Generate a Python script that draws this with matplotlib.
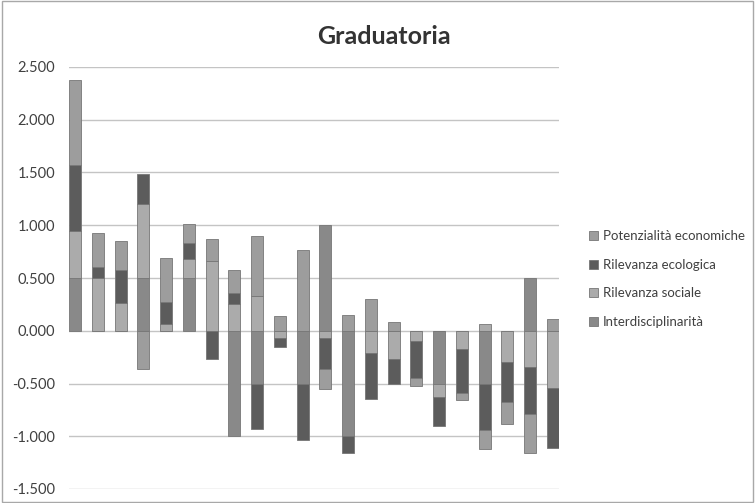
import matplotlib; matplotlib.use("Agg")
import matplotlib.pyplot as plt
import numpy as np
from matplotlib.patches import Rectangle

plt.rcParams["font.family"] = ["Lato", "DejaVu Sans"]

# ---- dati ----
series = ["Interdisciplinarità", "Rilevanza sociale", "Rilevanza ecologica", "Potenzialità economiche"]
interdisc = [0.5, 0, 0, 0.5, 0, 0.5, 0, -1.0, -0.5, 0, -0.5, 1.0, -1.0, 0, 0, 0, -0.5, 0, -0.5, 0, 0.5, 0]
sociale = [0.45, 0.5, 0.26, 0.7, 0.06, 0.18, 0.66, 0.25, 0.33, -0.07, 0, -0.07, 0, -0.21, -0.27, -0.10,
           -0.13, -0.17, 0.06, -0.30, -0.34, -0.54]
ecologica = [0.62, 0.1, 0.32, 0.29, 0.21, 0.15, -0.27, 0.11, -0.43, -0.08, -0.54, -0.29, -0.16, -0.44,
             -0.23, -0.35, -0.27, -0.42, -0.44, -0.38, -0.45, -0.57]
economiche = [0.81, 0.33, 0.27, -0.36, 0.42, 0.18, 0.21, 0.22, 0.57, 0.14, 0.77, -0.19, 0.15, 0.30,
              0.08, -0.07, 0, -0.07, -0.18, -0.20, -0.37, 0.11]
yticks = [-1.5, -1.0, -0.5, 0.0, 0.5, 1.0, 1.5, 2.0, 2.5]

colors = ["#898989", "#ababab", "#5c5c5c", "#9d9d9d"]

fig = plt.figure(figsize=(7.55, 5.03), dpi=100)
ax = fig.add_axes([69/755, 1 - 489/503, 490/755, 422/503])

x = np.arange(len(interdisc))
w = 0.527
pos = np.zeros(len(x)); neg = np.zeros(len(x))
bars = []
for name, vals, col in zip(series, [interdisc, sociale, ecologica, economiche], colors):
    v = np.array(vals, dtype=float)
    bottom = np.where(v >= 0, pos, neg)
    b = ax.bar(x, v, w, bottom=bottom, color=col, edgecolor="#767676", linewidth=0.6, label=name, zorder=3)
    bars.append(b)
    pos += np.where(v > 0, v, 0); neg += np.where(v < 0, v, 0)

ax.set_xlim(-w/2, len(x) - 1 + w/2)
ax.set_ylim(-1.5, 2.5)
ax.set_yticks(yticks)
ax.set_yticklabels([f"{t:.3f}" for t in yticks], fontsize=10.5, color="#404040")
ax.set_xticks([])
ax.tick_params(axis="y", length=0, pad=10)
for s in ax.spines.values():
    s.set_visible(False)
ax.grid(axis="y", color="#c4c4c4", linewidth=1.0, zorder=0)

fig.text(0.509, 0.928, "Graduatoria", ha="center", va="center", fontsize=18, fontweight="bold", color="#333333")
fig.legend(bars[::-1], series[::-1], loc="center left", bbox_to_anchor=(0.764, 0.445), frameon=False,
           fontsize=9.5, handlelength=0.7, handleheight=0.7, handletextpad=0.4, labelspacing=1.25,
           labelcolor="#404040")
fig.patches.append(Rectangle((0.002, 0.002), 0.996, 0.996, transform=fig.transFigure, fill=False,
                             edgecolor="#a8a8a8", linewidth=1))
fig.savefig("out.png", dpi=100)
